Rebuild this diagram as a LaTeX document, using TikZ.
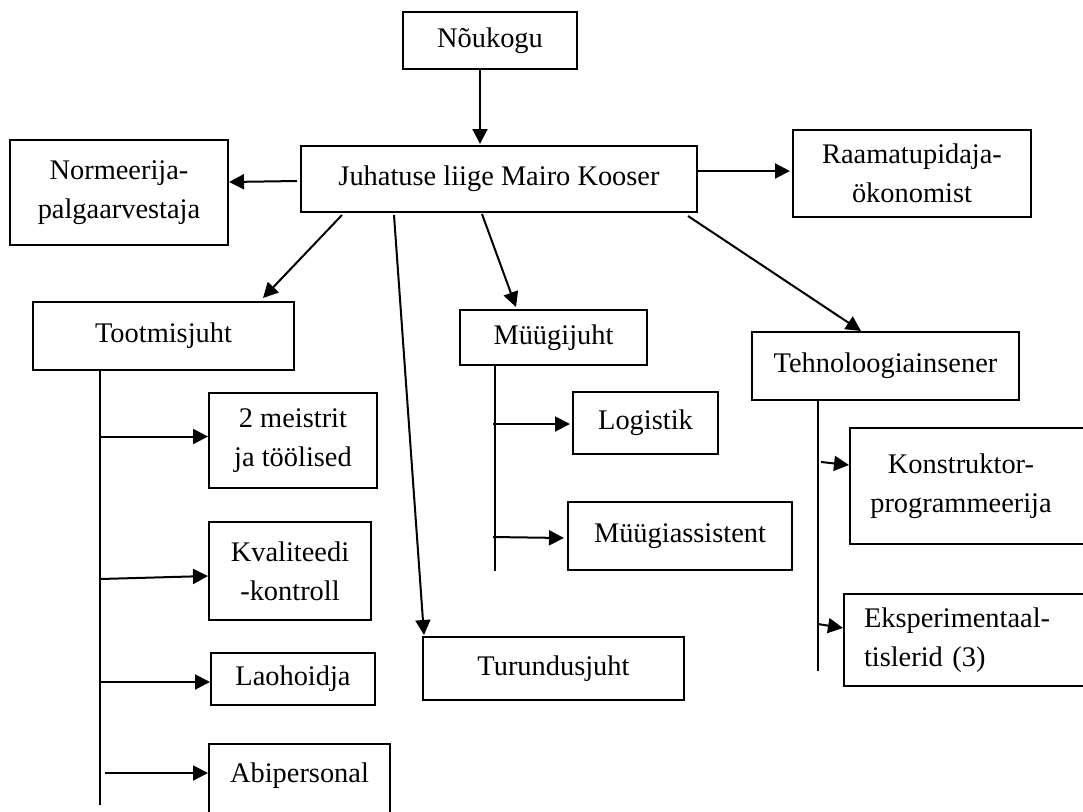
\documentclass[tikz,border=0pt]{standalone}
\usepackage{fontspec}
\setmainfont{Liberation Serif}
\usetikzlibrary{arrows.meta,calc}

\begin{document}
\begin{tikzpicture}[x=0.5pt,y=-0.5pt,
    box/.style={draw,line width=1pt,inner sep=0pt,align=center,font=\fontsize{14.2pt}{19.5pt}\selectfont},
    arr/.style={line width=1pt,-{Triangle[length=7.5pt,width=7.5pt]}},
    tree/.style={line width=1pt}]
    \useasboundingbox (0,0) rectangle (1083,811);
    \clip (0,0) rectangle (1083,811);
    % top levels
    \node[box,minimum width=87pt,minimum height=28.5pt] (nou) at (490,40.5) {Nõukogu};
    \node[box,minimum width=198pt,minimum height=33pt] (main) at (499,179) {Juhatuse liige Mairo Kooser};
    \node[box,minimum width=109pt,minimum height=52.5pt] (norm) at (119,192.5) {Normeerija-\\palgaarvestaja};
    \node[box,minimum width=119pt,minimum height=43.5pt] (raam) at (912,173.5) {Raamatupidaja-\\ökonomist};
    \node[box,minimum width=130.5pt,minimum height=34pt] (toot) at (163.5,336) {Tootmisjuht};
    \node[box,minimum width=93.5pt,minimum height=27.5pt] (muug) at (553.5,337.5) {Müügijuht};
    \node[box,minimum width=133.5pt,minimum height=34pt] (tehno) at (885.5,366) {Tehnoloogiainsener};
    \node[box,minimum width=130.5pt,minimum height=31.5pt] (turu) at (553.5,668.5) {Turundusjuht};
    % under Tootmisjuht
    \node[box,minimum width=84pt,minimum height=47.5pt] (meist) at (293,440.5) {2 meistrit\\ja töölised};
    \node[box,minimum width=81pt,minimum height=49pt] (kval) at (290,571) {Kvaliteedi\\-kontroll};
    \node[box,minimum width=82pt,minimum height=26pt] (lao) at (293,679) {Laohoidja};
    \node[box,minimum width=90.5pt,anchor=base,text height=14pt,text depth=40pt,inner ysep=5pt] (abi) at (299.5,782) {Abipersonal};
    % under Muugijuht
    \node[box,minimum width=72.5pt,minimum height=31pt] (logi) at (645.5,423) {Logistik};
    \node[box,minimum width=112pt,minimum height=34pt] (massi) at (680,536) {Müügiassistent};
    % under Tehnoloogiainsener
    \node[box,anchor=west,align=left,text width=140pt,minimum height=58pt] (konst) at (849,486)
        {\makebox[111pt]{Konstruktor-}\\\makebox[111pt]{programmeerija}};
    \node[box,anchor=west,align=left,text width=130pt,inner xsep=10pt,minimum height=46pt] (eksp) at (843,640)
        {Eksperimentaal-\\tislerid (3)};

    \draw[arr] ($(nou.south)+(-10,0)$) -- ($(main.north)+(-19,-1)$);
    \draw[arr] ($(main.west)+(-3,2)$) -- ($(norm.east)+(0,-10.5)$);
    \draw[arr] ($(main.east)+(0,-8)$) -- ($(raam.west)+(-2,-2.5)$);
    \draw[arr] ($(main.south west)+(42,2)$) -- ($(toot.north east)+(-32,-3)$);
    \draw[arr] ($(main.south west)+(94,2)$) -- ($(turu.north west)+(2,-1)$);
    \draw[arr] ($(main.south west)+(182,1)$) -- ($(muug.north west)+(57,-2)$);
    \draw[arr] ($(main.south east)+(-10,3)$) -- ($(tehno.north west)+(110,0)$);

    \coordinate (tootend) at (100,805);
    \draw[tree] (toot.south -| tootend) -- (tootend);
    \draw[arr] ($(tootend |- meist.west)+(0,-4)$) -- ($(meist.west)+(0,-4)$);
    \draw[arr] ($(tootend |- kval.west)+(0,8)$) -- ($(kval.west)+(0,5)$);
    \draw[arr] ($(tootend |- lao.west)+(0,3)$) -- ($(lao.west)+(0,3)$);
    \draw[arr] ($(tootend |- abi.base west)+(5,-9)$) -- ($(abi.base west)+(0,-9)$);

    \coordinate (muugend) at (495,571);
    \draw[tree] (muug.south -| muugend) -- (muugend);
    \draw[arr] ($(muugend |- logi.west)+(-2,1)$) -- ($(logi.west)+(-2,1)$);
    \draw[arr] ($(muugend |- massi.west)+(-2,1)$) -- ($(massi.west)+(-3,2)$);

    \coordinate (tehnoend) at (818,671);
    \draw[tree] (tehno.south -| tehnoend) -- (tehnoend);
    \draw[arr] ($(tehnoend |- konst.west)+(3,-24)$) -- ($(konst.west)+(0,-21)$);
    \draw[arr] ($(tehnoend |- eksp.west)+(0,-16)$) -- ($(eksp.west)+(0,-12)$);
\end{tikzpicture}
\end{document}
